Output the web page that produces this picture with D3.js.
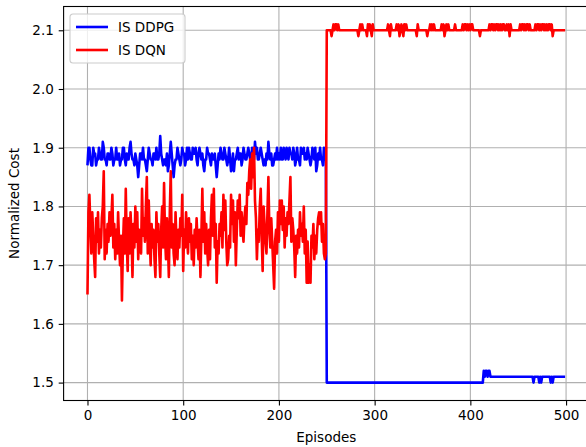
<!DOCTYPE html>
<html>
<head>
<meta charset="utf-8">
<script src="https://cdn.jsdelivr.net/npm/d3@7"></script>
<style>
  html, body { margin: 0; padding: 0; background: #fff; }
  svg { display: block; font-family: "DejaVu Sans", sans-serif; }
</style>
</head>
<body>
<div id="chart"></div>
<script>
// Normalized cost per episode (episodes 0..499)
const ddpgFirst = [
  1.87, 1.90, 1.90, 1.88, 1.87, 1.87, 1.90, 1.89, 1.89, 1.87,
  1.88, 1.88, 1.90, 1.89, 1.88, 1.88, 1.91, 1.90, 1.88, 1.88,
  1.87, 1.89, 1.89, 1.88, 1.88, 1.90, 1.89, 1.87, 1.88, 1.88,
  1.90, 1.88, 1.88, 1.89, 1.87, 1.88, 1.88, 1.90, 1.90, 1.88,
  1.87, 1.89, 1.88, 1.88, 1.90, 1.91, 1.89, 1.88, 1.88, 1.87,
  1.89, 1.88, 1.87, 1.85, 1.87, 1.89, 1.89, 1.88, 1.90, 1.88,
  1.88, 1.87, 1.86, 1.88, 1.90, 1.89, 1.88, 1.88, 1.87, 1.89,
  1.89, 1.88, 1.90, 1.88, 1.88, 1.89, 1.92, 1.89, 1.88, 1.87,
  1.88, 1.88, 1.87, 1.89, 1.86, 1.87, 1.89, 1.91, 1.89, 1.87,
  1.85, 1.87, 1.88, 1.88, 1.90, 1.89, 1.88, 1.87, 1.88, 1.90,
  1.89, 1.89, 1.87, 1.88, 1.90, 1.88, 1.90, 1.89, 1.88, 1.88,
  1.90, 1.89, 1.89, 1.90, 1.88, 1.87, 1.89, 1.90, 1.89, 1.88,
  1.89, 1.87, 1.86, 1.88, 1.88, 1.90, 1.89, 1.89, 1.88, 1.87,
  1.89, 1.88, 1.88, 1.89, 1.87, 1.85, 1.87, 1.89, 1.88, 1.90,
  1.89, 1.88, 1.88, 1.90, 1.89, 1.88, 1.87, 1.88, 1.90, 1.88,
  1.86, 1.87, 1.89, 1.86, 1.88, 1.88, 1.89, 1.90, 1.88, 1.89,
  1.89, 1.87, 1.88, 1.90, 1.89, 1.88, 1.88, 1.89, 1.90, 1.89,
  1.88, 1.88, 1.90, 1.89, 1.88, 1.91, 1.89, 1.90, 1.88, 1.88,
  1.89, 1.90, 1.89, 1.88, 1.87, 1.88, 1.87, 1.89, 1.88, 1.91,
  1.89, 1.88, 1.89, 1.87, 1.87, 1.88, 1.89, 1.88, 1.90, 1.88,
  1.89, 1.88, 1.90, 1.88, 1.88, 1.90, 1.89, 1.88, 1.90, 1.89,
  1.88, 1.90, 1.89, 1.89, 1.88, 1.90, 1.89, 1.87, 1.88, 1.90,
  1.88, 1.88, 1.87, 1.90, 1.89, 1.89, 1.90, 1.88, 1.89, 1.88,
  1.90, 1.89, 1.88, 1.87, 1.88, 1.90, 1.89, 1.88, 1.90, 1.86,
  1.87, 1.89, 1.88, 1.90, 1.88, 1.88, 1.87, 1.90, 1.88, 1.90
];
const ddpgSecond = [
  1.50, 1.50, 1.50, 1.50, 1.50, 1.50, 1.50, 1.50, 1.50, 1.50,
  1.50, 1.50, 1.50, 1.50, 1.50, 1.50, 1.50, 1.50, 1.50, 1.50,
  1.50, 1.50, 1.50, 1.50, 1.50, 1.50, 1.50, 1.50, 1.50, 1.50,
  1.50, 1.50, 1.50, 1.50, 1.50, 1.50, 1.50, 1.50, 1.50, 1.50,
  1.50, 1.50, 1.50, 1.50, 1.50, 1.50, 1.50, 1.50, 1.50, 1.50,
  1.50, 1.50, 1.50, 1.50, 1.50, 1.50, 1.50, 1.50, 1.50, 1.50,
  1.50, 1.50, 1.50, 1.50, 1.50, 1.50, 1.50, 1.50, 1.50, 1.50,
  1.50, 1.50, 1.50, 1.50, 1.50, 1.50, 1.50, 1.50, 1.50, 1.50,
  1.50, 1.50, 1.50, 1.50, 1.50, 1.50, 1.50, 1.50, 1.50, 1.50,
  1.50, 1.50, 1.50, 1.50, 1.50, 1.50, 1.50, 1.50, 1.50, 1.50,
  1.50, 1.50, 1.50, 1.50, 1.50, 1.50, 1.50, 1.50, 1.50, 1.50,
  1.50, 1.50, 1.50, 1.50, 1.50, 1.50, 1.50, 1.50, 1.50, 1.50,
  1.50, 1.50, 1.50, 1.50, 1.50, 1.50, 1.50, 1.50, 1.50, 1.50,
  1.50, 1.50, 1.50, 1.50, 1.50, 1.50, 1.50, 1.50, 1.50, 1.50,
  1.50, 1.50, 1.50, 1.50, 1.50, 1.50, 1.50, 1.50, 1.50, 1.50,
  1.50, 1.50, 1.50, 1.50, 1.50, 1.50, 1.50, 1.50, 1.50, 1.50,
  1.50, 1.50, 1.50, 1.50, 1.52, 1.51, 1.52, 1.52, 1.51, 1.52,
  1.52, 1.51, 1.51, 1.51, 1.51, 1.51, 1.51, 1.51, 1.51, 1.51,
  1.51, 1.51, 1.51, 1.51, 1.51, 1.51, 1.51, 1.51, 1.51, 1.51,
  1.51, 1.51, 1.51, 1.51, 1.51, 1.51, 1.51, 1.51, 1.51, 1.51,
  1.51, 1.51, 1.51, 1.51, 1.51, 1.51, 1.51, 1.51, 1.51, 1.51,
  1.51, 1.51, 1.51, 1.51, 1.51, 1.51, 1.50, 1.51, 1.51, 1.51,
  1.51, 1.51, 1.50, 1.51, 1.50, 1.51, 1.51, 1.51, 1.51, 1.51,
  1.51, 1.51, 1.51, 1.51, 1.50, 1.51, 1.50, 1.51, 1.51, 1.51,
  1.51, 1.51, 1.51, 1.51, 1.51, 1.51, 1.51, 1.51, 1.51, 1.51
];
const dqnFirst = [
  1.65, 1.79, 1.82, 1.77, 1.72, 1.79, 1.75, 1.71, 1.68, 1.78,
  1.74, 1.79, 1.72, 1.76, 1.73, 1.78, 1.80, 1.86, 1.71, 1.76,
  1.72, 1.77, 1.74, 1.79, 1.75, 1.78, 1.82, 1.73, 1.77, 1.71,
  1.76, 1.72, 1.79, 1.74, 1.70, 1.75, 1.64, 1.73, 1.78, 1.72,
  1.83, 1.74, 1.69, 1.78, 1.72, 1.79, 1.75, 1.68, 1.77, 1.73,
  1.80, 1.74, 1.79, 1.71, 1.76, 1.74, 1.72, 1.83, 1.75, 1.78,
  1.74, 1.80, 1.85, 1.72, 1.81, 1.75, 1.70, 1.77, 1.73, 1.76,
  1.71, 1.68, 1.79, 1.74, 1.77, 1.72, 1.68, 1.76, 1.80, 1.73,
  1.84, 1.75, 1.71, 1.78, 1.74, 1.68, 1.79, 1.86, 1.73, 1.77,
  1.72, 1.70, 1.79, 1.74, 1.71, 1.76, 1.73, 1.78, 1.75, 1.82,
  1.69, 1.76, 1.73, 1.79, 1.75, 1.72, 1.78, 1.74, 1.77, 1.71,
  1.75, 1.70, 1.76, 1.73, 1.78, 1.74, 1.71, 1.76, 1.68, 1.75,
  1.83, 1.74, 1.79, 1.72, 1.77, 1.73, 1.70, 1.76, 1.71, 1.78,
  1.82, 1.75, 1.83, 1.73, 1.77, 1.67, 1.74, 1.72, 1.77, 1.75,
  1.79, 1.73, 1.82, 1.76, 1.81, 1.74, 1.70, 1.71, 1.75, 1.73,
  1.82, 1.77, 1.81, 1.74, 1.79, 1.70, 1.76, 1.81, 1.78, 1.82,
  1.75, 1.79, 1.76, 1.74, 1.78, 1.80, 1.77, 1.84, 1.82, 1.86,
  1.88, 1.83, 1.89, 1.85, 1.90, 1.81, 1.78, 1.71, 1.76, 1.74,
  1.80, 1.83, 1.75, 1.69, 1.80, 1.77, 1.74, 1.72, 1.79, 1.85,
  1.76, 1.73, 1.78, 1.74, 1.70, 1.66, 1.74, 1.76, 1.72, 1.79,
  1.74, 1.81, 1.77, 1.81, 1.76, 1.80, 1.73, 1.78, 1.75, 1.79,
  1.77, 1.81, 1.85, 1.74, 1.78, 1.76, 1.73, 1.68, 1.75, 1.72,
  1.76, 1.73, 1.79, 1.75, 1.77, 1.74, 1.80, 1.72, 1.76, 1.67,
  1.74, 1.67, 1.70, 1.67, 1.75, 1.73, 1.77, 1.71, 1.75, 1.72,
  1.76, 1.78, 1.79, 1.77, 1.79, 1.74, 1.77, 1.72, 1.71, 1.72
];
const dqnSecond = [
  2.10, 2.10, 2.10, 2.10, 2.10, 2.09, 2.10, 2.11, 2.10, 2.11,
  2.11, 2.10, 2.11, 2.10, 2.10, 2.10, 2.10, 2.10, 2.10, 2.10,
  2.10, 2.10, 2.10, 2.10, 2.10, 2.10, 2.10, 2.10, 2.10, 2.10,
  2.10, 2.10, 2.10, 2.09, 2.10, 2.11, 2.10, 2.11, 2.10, 2.10,
  2.10, 2.10, 2.09, 2.11, 2.10, 2.11, 2.10, 2.09, 2.11, 2.10,
  2.10, 2.10, 2.10, 2.10, 2.10, 2.10, 2.10, 2.10, 2.10, 2.10,
  2.10, 2.10, 2.10, 2.10, 2.11, 2.10, 2.09, 2.11, 2.10, 2.10,
  2.10, 2.10, 2.10, 2.11, 2.10, 2.11, 2.09, 2.10, 2.11, 2.10,
  2.09, 2.11, 2.10, 2.11, 2.10, 2.10, 2.10, 2.10, 2.10, 2.10,
  2.10, 2.10, 2.10, 2.10, 2.09, 2.11, 2.10, 2.10, 2.10, 2.10,
  2.10, 2.10, 2.10, 2.10, 2.10, 2.09, 2.10, 2.10, 2.11, 2.10,
  2.11, 2.10, 2.11, 2.10, 2.10, 2.10, 2.10, 2.10, 2.10, 2.10,
  2.11, 2.10, 2.11, 2.09, 2.10, 2.11, 2.10, 2.11, 2.10, 2.10,
  2.10, 2.10, 2.10, 2.10, 2.11, 2.10, 2.10, 2.10, 2.10, 2.10,
  2.10, 2.10, 2.11, 2.10, 2.11, 2.11, 2.10, 2.11, 2.10, 2.11,
  2.10, 2.11, 2.11, 2.10, 2.10, 2.10, 2.10, 2.10, 2.10, 2.10,
  2.09, 2.10, 2.10, 2.10, 2.10, 2.10, 2.10, 2.10, 2.10, 2.10,
  2.11, 2.10, 2.11, 2.11, 2.10, 2.11, 2.10, 2.11, 2.11, 2.10,
  2.11, 2.10, 2.11, 2.10, 2.11, 2.11, 2.10, 2.10, 2.11, 2.10,
  2.11, 2.09, 2.11, 2.10, 2.10, 2.10, 2.10, 2.10, 2.10, 2.10,
  2.10, 2.10, 2.11, 2.10, 2.11, 2.11, 2.10, 2.11, 2.10, 2.11,
  2.11, 2.10, 2.11, 2.10, 2.10, 2.10, 2.10, 2.10, 2.11, 2.10,
  2.11, 2.11, 2.10, 2.11, 2.10, 2.11, 2.11, 2.10, 2.11, 2.10,
  2.11, 2.10, 2.11, 2.11, 2.10, 2.11, 2.09, 2.10, 2.10, 2.10,
  2.10, 2.10, 2.10, 2.10, 2.10, 2.10, 2.10, 2.10, 2.10, 2.10
];
const xTicks = [0, 100, 200, 300, 400, 500];
const yTicks = [1.5, 1.6, 1.7, 1.8, 1.9, 2.0, 2.1];
const seriesNames = ["IS DDPG", "IS DQN"];
const seriesColors = ["#0000ff", "#ff0000"];

const width = 586, height = 447;
// axes box in pixels (the right spine falls just outside the picture)
const margin = {top: 6.5, right: -3, bottom: 46.5, left: 63.6};

const series = [ddpgFirst.concat(ddpgSecond), dqnFirst.concat(dqnSecond)];
const nEp = series[0].length;

const svg = d3.select("#chart").append("svg")
    .attr("width", width)
    .attr("height", height);

// matplotlib style 5% padding around the data
const xPad = (nEp - 1) * 0.05;
const yMin = d3.min(series, s => d3.min(s)), yMax = d3.max(series, s => d3.max(s));
const yPad = (yMax - yMin) * 0.05;

const x = d3.scaleLinear()
    .domain([-xPad, nEp - 1 + xPad])
    .range([margin.left, width - margin.right]);
const y = d3.scaleLinear()
    .domain([yMin - yPad, yMax + yPad])
    .range([height - margin.bottom, margin.top]);

svg.append("defs").append("clipPath")
    .attr("id", "plot-clip")
    .append("rect")
    .attr("x", margin.left)
    .attr("y", margin.top)
    .attr("width", width - margin.right - margin.left)
    .attr("height", height - margin.bottom - margin.top);

// Grid
const grid = svg.append("g").attr("class", "grid");
grid.selectAll("line.gx")
    .data(xTicks)
    .join("line")
    .attr("x1", d => x(d)).attr("x2", d => x(d))
    .attr("y1", margin.top).attr("y2", height - margin.bottom)
    .attr("stroke", "#b0b0b0").attr("stroke-width", 1.1);
grid.selectAll("line.gy")
    .data(yTicks)
    .join("line")
    .attr("y1", d => y(d)).attr("y2", d => y(d))
    .attr("x1", margin.left).attr("x2", width - margin.right)
    .attr("stroke", "#b0b0b0").attr("stroke-width", 1.1);

// Lines
const line = d3.line()
    .x((d, i) => x(i))
    .y(d => y(d));

svg.append("g")
    .attr("clip-path", "url(#plot-clip)")
    .selectAll("path")
    .data(series)
    .join("path")
    .attr("d", line)
    .attr("fill", "none")
    .attr("stroke", (d, i) => seriesColors[i])
    .attr("stroke-width", 2.6)
    .attr("stroke-linejoin", "round");

// Axes
const xAxis = svg.append("g")
    .attr("transform", "translate(0," + (height - margin.bottom) + ")")
    .call(d3.axisBottom(x).tickValues(xTicks).tickFormat(d3.format("d")).tickSize(4.9).tickPadding(4.9));
const yAxis = svg.append("g")
    .attr("transform", "translate(" + margin.left + ",0)")
    .call(d3.axisLeft(y).tickValues(yTicks).tickFormat(d3.format(".1f")).tickSize(4.9).tickPadding(4.9));

[xAxis, yAxis].forEach(a => {
    a.select(".domain").remove();
    a.selectAll("line").attr("stroke", "#000").attr("stroke-width", 1.1);
    a.selectAll("text")
        .attr("fill", "#000")
        .style("font-family", "DejaVu Sans, sans-serif")
        .style("font-size", "13.5px");
});

// Spines
svg.append("rect")
    .attr("x", margin.left)
    .attr("y", margin.top)
    .attr("width", width - margin.right - margin.left)
    .attr("height", height - margin.bottom - margin.top)
    .attr("fill", "none")
    .attr("stroke", "#000")
    .attr("stroke-width", 1.1);

// Axis labels
svg.append("text")
    .attr("x", (margin.left + width - margin.right) / 2)
    .attr("y", 442)
    .attr("text-anchor", "middle")
    .style("font-size", "13.5px")
    .text("Episodes");

svg.append("text")
    .attr("transform", "translate(19," + ((margin.top + height - margin.bottom) / 2) + ") rotate(-90)")
    .attr("text-anchor", "middle")
    .style("font-size", "13.5px")
    .text("Normalized Cost");

// Legend
const legend = svg.append("g").attr("transform", "translate(70,14)");
legend.append("rect")
    .attr("width", 115)
    .attr("height", 49)
    .attr("rx", 3)
    .attr("fill", "#fff")
    .attr("fill-opacity", 0.8)
    .attr("stroke", "#cccccc")
    .attr("stroke-width", 1.1);

const items = legend.selectAll("g.item")
    .data(seriesNames)
    .join("g")
    .attr("class", "item")
    .attr("transform", (d, i) => "translate(0," + (13 + i * 23) + ")");
items.append("line")
    .attr("x1", 6).attr("x2", 38)
    .attr("stroke", (d, i) => seriesColors[i])
    .attr("stroke-width", 2.6);
items.append("text")
    .attr("x", 48)
    .attr("dy", "0.35em")
    .style("font-size", "13.5px")
    .text(d => d);
</script>
</body>
</html>
